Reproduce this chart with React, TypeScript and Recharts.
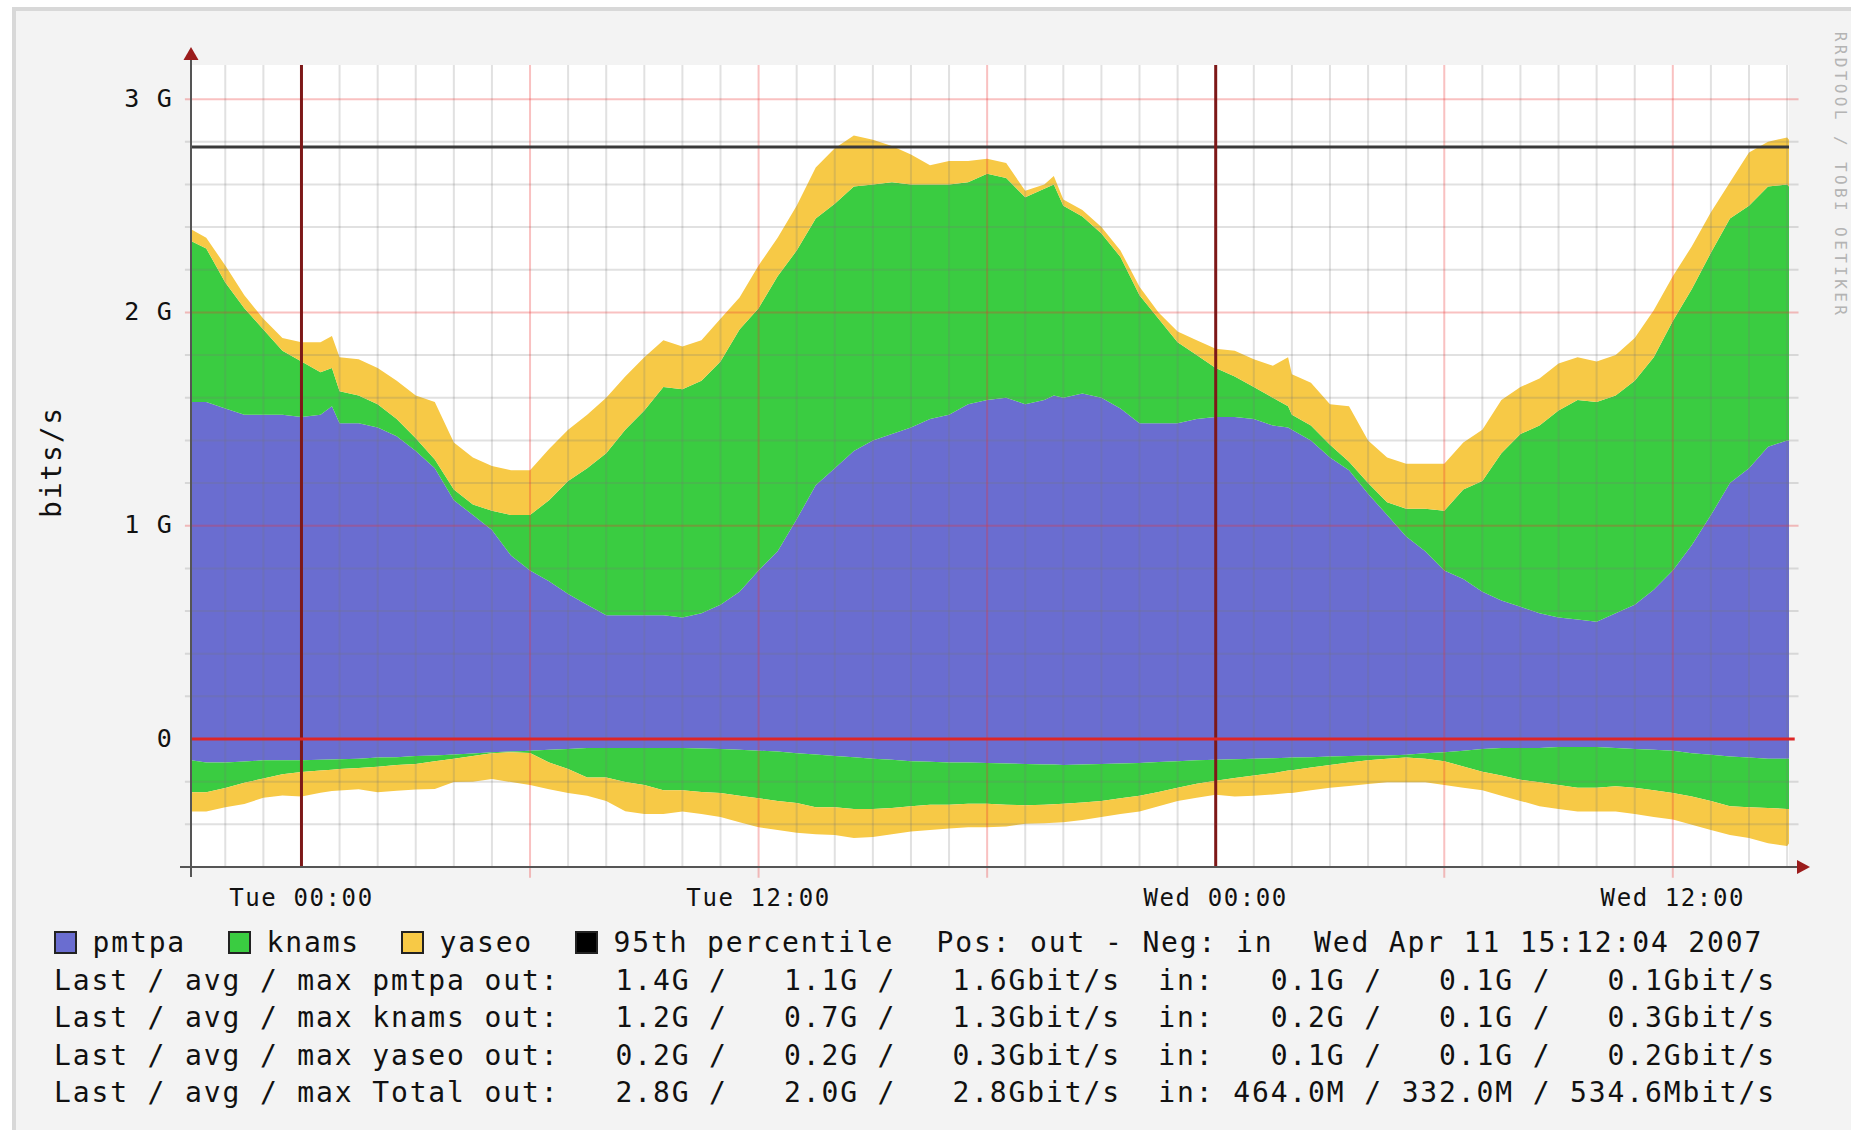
import { ComposedChart, Area, XAxis, YAxis, CartesianGrid, ReferenceLine, ReferenceDot } from 'recharts'

// hours relative to Tue 00:00
const HOURS = [
  -2.9, -2.5, -2, -1.5, -1, -0.5, 0, 0.5, 0.8,
  1, 1.5, 2, 2.5, 3, 3.5, 4, 4.5, 5, 5.5,
  6, 6.5, 7, 7.5, 8, 8.5, 9, 9.5, 10, 10.5,
  11, 11.5, 12, 12.5, 13, 13.5, 14, 14.5, 15, 15.5,
  16, 16.5, 17, 17.5, 18, 18.5, 19, 19.5, 19.75,
  20, 20.5, 21, 21.5, 22, 22.5, 23, 23.5, 24, 24.5, 25, 25.5, 25.9,
  26, 26.5, 27, 27.5, 28, 28.5, 29, 29.5, 30, 30.5,
  31, 31.5, 32, 32.5, 33, 33.5, 34, 34.5, 35, 35.5,
  36, 36.5, 37, 37.5, 38, 38.5, 39, 39.05,
]

// outgoing traffic, Gbit/s (stacked above zero)
const PMTPA_OUT = [
  1.58, 1.58, 1.55, 1.52, 1.52, 1.52, 1.51, 1.52, 1.56,
  1.48, 1.48, 1.46, 1.42, 1.35, 1.27, 1.12, 1.05, 0.98, 0.86,
  0.79, 0.74, 0.68, 0.63, 0.58, 0.58, 0.58, 0.58, 0.57, 0.59,
  0.63, 0.69, 0.79, 0.88, 1.03, 1.19, 1.27, 1.35, 1.4, 1.43,
  1.46, 1.5, 1.52, 1.57, 1.59, 1.6, 1.57, 1.59, 1.61,
  1.6, 1.62, 1.6, 1.55, 1.48, 1.48, 1.48, 1.5, 1.51, 1.51, 1.5, 1.47, 1.46,
  1.45, 1.4, 1.32, 1.26, 1.15, 1.05, 0.95, 0.88, 0.79, 0.75,
  0.69, 0.65, 0.62, 0.59, 0.57, 0.56, 0.55, 0.59, 0.63, 0.7,
  0.79, 0.91, 1.05, 1.2, 1.27, 1.37, 1.4, 1.4,
]
const KNAMS_OUT = [
  0.755, 0.72, 0.59, 0.5, 0.4, 0.3, 0.26, 0.2, 0.18,
  0.15, 0.13, 0.11, 0.08, 0.06, 0.04, 0.05, 0.05, 0.09, 0.19,
  0.26, 0.38, 0.53, 0.64, 0.76, 0.87, 0.96, 1.07, 1.07, 1.09,
  1.14, 1.23, 1.23, 1.29, 1.26, 1.25, 1.24, 1.24, 1.2, 1.18,
  1.14, 1.1, 1.08, 1.04, 1.06, 1.03, 0.97, 0.99, 0.99,
  0.9, 0.83, 0.77, 0.71, 0.6, 0.49, 0.38, 0.3, 0.23, 0.19, 0.15, 0.13, 0.1,
  0.07, 0.07, 0.06, 0.04, 0.05, 0.06, 0.13, 0.2, 0.28, 0.42,
  0.52, 0.69, 0.81, 0.88, 0.97, 1.03, 1.03, 1.02, 1.05, 1.09,
  1.17, 1.2, 1.23, 1.24, 1.23, 1.22, 1.2, 1.19,
]
const YASEO_OUT = [
  0.055, 0.05, 0.08, 0.06, 0.05, 0.06, 0.09, 0.14, 0.15,
  0.16, 0.17, 0.17, 0.18, 0.2, 0.27, 0.22, 0.22, 0.21, 0.21,
  0.21, 0.24, 0.24, 0.25, 0.26, 0.25, 0.25, 0.22, 0.2, 0.19,
  0.2, 0.15, 0.2, 0.18, 0.21, 0.24, 0.26, 0.24, 0.21, 0.17,
  0.14, 0.09, 0.11, 0.1, 0.07, 0.07, 0.03, 0.02, 0.04,
  0.03, 0.03, 0.03, 0.03, 0.04, 0.03, 0.05, 0.07, 0.09, 0.12, 0.13, 0.15, 0.23,
  0.19, 0.2, 0.19, 0.26, 0.2, 0.21, 0.21, 0.21, 0.22, 0.22,
  0.24, 0.25, 0.22, 0.22, 0.22, 0.2, 0.19, 0.19, 0.2, 0.22,
  0.21, 0.2, 0.19, 0.17, 0.25, 0.21, 0.22, 0.22,
]

// incoming traffic, drawn negative
const PMTPA_IN = [
  -0.1, -0.11, -0.11, -0.105, -0.1, -0.1, -0.1, -0.097, -0.096,
  -0.095, -0.092, -0.087, -0.085, -0.08, -0.077, -0.072, -0.068, -0.062, -0.058,
  -0.055, -0.05, -0.047, -0.042, -0.042, -0.042, -0.042, -0.042, -0.042, -0.045,
  -0.047, -0.05, -0.055, -0.058, -0.067, -0.072, -0.08, -0.085, -0.092, -0.097,
  -0.104, -0.107, -0.11, -0.11, -0.112, -0.115, -0.117, -0.12, -0.12,
  -0.122, -0.12, -0.117, -0.115, -0.112, -0.108, -0.104, -0.1, -0.097, -0.095, -0.092, -0.09, -0.088,
  -0.087, -0.085, -0.082, -0.08, -0.077, -0.077, -0.074, -0.067, -0.062, -0.055,
  -0.047, -0.042, -0.042, -0.042, -0.037, -0.037, -0.037, -0.042, -0.047, -0.05,
  -0.055, -0.067, -0.074, -0.082, -0.087, -0.092, -0.092, -0.092,
]
const KNAMS_IN = [
  -0.15, -0.14, -0.12, -0.1, -0.085, -0.065, -0.055, -0.05, -0.048,
  -0.046, -0.044, -0.043, -0.037, -0.037, -0.027, -0.02, -0.012, -0.005, -0.004,
  -0.01, -0.06, -0.093, -0.138, -0.138, -0.16, -0.174, -0.198, -0.198, -0.203,
  -0.206, -0.216, -0.223, -0.232, -0.233, -0.248, -0.24, -0.243, -0.236, -0.226,
  -0.211, -0.201, -0.198, -0.193, -0.191, -0.193, -0.193, -0.188, -0.186,
  -0.181, -0.178, -0.173, -0.163, -0.154, -0.14, -0.124, -0.11, -0.099, -0.088, -0.079, -0.07, -0.06,
  -0.059, -0.049, -0.04, -0.03, -0.022, -0.015, -0.013, -0.025, -0.042, -0.074,
  -0.107, -0.129, -0.149, -0.161, -0.179, -0.191, -0.191, -0.179, -0.181, -0.19,
  -0.198, -0.203, -0.216, -0.233, -0.233, -0.231, -0.236, -0.236,
]
const YASEO_IN = [
  -0.09, -0.09, -0.09, -0.1, -0.09, -0.1, -0.115, -0.105, -0.1,
  -0.1, -0.1, -0.12, -0.12, -0.12, -0.13, -0.11, -0.12, -0.12, -0.14,
  -0.15, -0.125, -0.113, -0.086, -0.11, -0.137, -0.136, -0.112, -0.1, -0.104,
  -0.112, -0.124, -0.136, -0.137, -0.14, -0.127, -0.13, -0.136, -0.131, -0.124,
  -0.119, -0.119, -0.112, -0.111, -0.111, -0.102, -0.087, -0.087, -0.086,
  -0.087, -0.082, -0.075, -0.074, -0.074, -0.067, -0.062, -0.065, -0.065, -0.087, -0.095, -0.1, -0.105,
  -0.107, -0.106, -0.106, -0.11, -0.112, -0.111, -0.116, -0.111, -0.112, -0.099,
  -0.086, -0.095, -0.099, -0.112, -0.112, -0.112, -0.112, -0.119, -0.124, -0.125,
  -0.124, -0.132, -0.137, -0.135, -0.144, -0.166, -0.173, -0.162,
]

const PERCENTILE_95 = 2.775

const X_TICKS = [0, 12, 24, 36]
const X_TICK_LABELS = ['Tue 00:00', 'Tue 12:00', 'Wed 00:00', 'Wed 12:00']
const Y_TICKS = [0, 1, 2, 3]
const Y_TICK_LABELS = ['0', '1 G', '2 G', '3 G']
const DAY_RULES = [0, 24]

const MINOR_Y = [-0.4, -0.2, 0.2, 0.4, 0.6, 0.8, 1.2, 1.4, 1.6, 1.8, 2.2, 2.4, 2.6, 2.8]
const MAJOR_Y = [1, 2, 3]
const MINOR_X = [-2, -1, 1, 2, 3, 4, 5, 7, 8, 9, 10, 11, 13, 14, 15, 16, 17, 19, 20, 21, 22, 23,
  25, 26, 27, 28, 29, 31, 32, 33, 34, 35, 37, 38, 39]
const MAJOR_X = [6, 12, 18, 30, 36]

const STATS_ROWS = [
  'Last / avg / max pmtpa out:   1.4G /   1.1G /   1.6Gbit/s  in:   0.1G /   0.1G /   0.1Gbit/s',
  'Last / avg / max knams out:   1.2G /   0.7G /   1.3Gbit/s  in:   0.2G /   0.1G /   0.3Gbit/s',
  'Last / avg / max yaseo out:   0.2G /   0.2G /   0.3Gbit/s  in:   0.1G /   0.1G /   0.2Gbit/s',
  'Last / avg / max Total out:   2.8G /   2.0G /   2.8Gbit/s  in: 464.0M / 332.0M / 534.6Mbit/s',
]

const BLUE = '#6a6dd0'
const GREEN = '#3acc41'
const YELLOW = '#f7c946'
const MONO = '"DejaVu Sans Mono", "Liberation Mono", monospace'

const W = 1851
const H = 930
const MARGIN = { top: 65, right: 62, bottom: 33, left: 131 }
const X_DOMAIN: [number, number] = [-2.9, 39.05]
const Y_DOMAIN: [number, number] = [-0.6, 3.16]

const LEGEND = [
  { name: 'pmtpa', color: BLUE, x: 54 },
  { name: 'knams', color: GREEN, x: 228 },
  { name: 'yaseo', color: YELLOW, x: 401 },
  { name: '95th percentile', color: '#000000', x: 575 },
]

const rows = HOURS.map((t, i) => ({
  t,
  pmtpaOut: PMTPA_OUT[i],
  knamsOut: KNAMS_OUT[i],
  yaseoOut: YASEO_OUT[i],
  pmtpaIn: PMTPA_IN[i],
  knamsIn: KNAMS_IN[i],
  yaseoIn: YASEO_IN[i],
}))

const minorGrid = 'rgba(120,120,120,0.22)'
const majorGrid = 'rgba(235,50,50,0.3)'

function XTick(props: any) {
  const { x, y, payload } = props
  const label = X_TICK_LABELS[X_TICKS.indexOf(payload.value)]
  return (
    <text x={x} y={y + 39} textAnchor="middle" fontFamily={MONO} fontSize={24} letterSpacing={1.6} fill="#111">
      {label}
    </text>
  )
}

function YTick(props: any) {
  const { x, y, payload } = props
  const label = Y_TICK_LABELS[Y_TICKS.indexOf(payload.value)]
  return (
    <text x={x - 18} y={y + 7.5} textAnchor="end" fontFamily={MONO} fontSize={25} letterSpacing={1.2} fill="#111"
      style={{ whiteSpace: 'pre' }}>
      {label}
    </text>
  )
}

function areaProps(color: string) {
  return {
    type: 'linear' as const,
    fill: color,
    fillOpacity: 1,
    stroke: 'none',
    dot: false,
    activeDot: false,
    isAnimationActive: false,
  }
}

function TrafficAreas() {
  return (
    <ComposedChart width={W} height={H} data={rows} margin={MARGIN}>
      <CartesianGrid fill="#ffffff" horizontal={false} vertical={false} stroke="none" />
      <XAxis type="number" dataKey="t" domain={X_DOMAIN} allowDataOverflow height={30} tick={false} axisLine={false} tickLine={false} />
      <YAxis type="number" domain={Y_DOMAIN} allowDataOverflow width={60} tick={false} axisLine={false} tickLine={false} />
      <Area dataKey="pmtpaOut" stackId="out" {...areaProps(BLUE)} />
      <Area dataKey="knamsOut" stackId="out" {...areaProps(GREEN)} />
      <Area dataKey="yaseoOut" stackId="out" {...areaProps(YELLOW)} />
      <Area dataKey="pmtpaIn" stackId="in" {...areaProps(BLUE)} />
      <Area dataKey="knamsIn" stackId="in" {...areaProps(GREEN)} />
      <Area dataKey="yaseoIn" stackId="in" {...areaProps(YELLOW)} />
    </ComposedChart>
  )
}

function GridOverlay() {
  return (
    <ComposedChart width={W} height={H} data={rows} margin={MARGIN}>
      <XAxis type="number" dataKey="t" domain={X_DOMAIN} allowDataOverflow height={30}
        ticks={X_TICKS} interval={0} tick={XTick} tickLine={false} tickSize={0} tickMargin={0}
        axisLine={{ stroke: '#555', strokeWidth: 2 }} />
      <YAxis type="number" domain={Y_DOMAIN} allowDataOverflow width={60}
        ticks={Y_TICKS} interval={0} tick={YTick} tickLine={false} tickSize={0} tickMargin={0}
        axisLine={{ stroke: '#555', strokeWidth: 2 }} />
      {MINOR_X.map((h) => (
        <ReferenceLine key={'mx' + h} segment={[{ x: h, y: Y_DOMAIN[0] }, { x: h, y: Y_DOMAIN[1] }]}
          stroke={minorGrid} strokeWidth={2} ifOverflow="visible" />
      ))}
      {MINOR_Y.map((v) => (
        <ReferenceLine key={'my' + v} segment={[{ x: -3.06, y: v }, { x: 39.3, y: v }]}
          stroke={minorGrid} strokeWidth={2} ifOverflow="visible" />
      ))}
      {MAJOR_X.map((h) => (
        <ReferenceLine key={'Mx' + h} segment={[{ x: h, y: -0.65 }, { x: h, y: Y_DOMAIN[1] }]}
          stroke={majorGrid} strokeWidth={2} ifOverflow="visible" />
      ))}
      {MAJOR_Y.map((v) => (
        <ReferenceLine key={'My' + v} segment={[{ x: -3.06, y: v }, { x: 39.3, y: v }]}
          stroke={majorGrid} strokeWidth={2} ifOverflow="visible" />
      ))}
      <ReferenceLine segment={[{ x: X_DOMAIN[0], y: PERCENTILE_95 }, { x: X_DOMAIN[1], y: PERCENTILE_95 }]}
        stroke="#3a3a3a" strokeWidth={3} ifOverflow="visible" />
      {DAY_RULES.map((h) => (
        <ReferenceLine key={'vr' + h} segment={[{ x: h, y: Y_DOMAIN[0] }, { x: h, y: Y_DOMAIN[1] }]}
          stroke="#7d1818" strokeWidth={3} ifOverflow="visible" />
      ))}
      <ReferenceLine segment={[{ x: X_DOMAIN[0], y: 0 }, { x: 39.2, y: 0 }]}
        stroke="#dd2626" strokeWidth={3} ifOverflow="visible" />
      <ReferenceDot x={X_DOMAIN[1]} y={Y_DOMAIN[0]} r={0} ifOverflow="visible"
        shape={(p: any) => (
          <g>
            <line x1={p.cx} y1={p.cy} x2={p.cx + 9} y2={p.cy} stroke="#555" strokeWidth={2} />
            <path d={`M${p.cx + 8},${p.cy - 7} L${p.cx + 21},${p.cy} L${p.cx + 8},${p.cy + 7} Z`} fill="#9b1c1c" />
          </g>
        )} />
      <ReferenceDot x={X_DOMAIN[0]} y={Y_DOMAIN[1]} r={0} ifOverflow="visible"
        shape={(p: any) => (
          <g>
            <line x1={p.cx} y1={p.cy} x2={p.cx} y2={p.cy - 6} stroke="#555" strokeWidth={2} />
            <path d={`M${p.cx - 7.5},${p.cy - 5} L${p.cx},${p.cy - 18} L${p.cx + 7.5},${p.cy - 5} Z`} fill="#9b1c1c" />
          </g>
        )} />
      <ReferenceDot x={X_DOMAIN[0]} y={Y_DOMAIN[0]} r={0} ifOverflow="visible"
        shape={(p: any) => (
          <g>
            <line x1={p.cx} y1={p.cy} x2={p.cx} y2={p.cy + 10} stroke="#555" strokeWidth={2} />
            <line x1={p.cx - 11} y1={p.cy} x2={p.cx} y2={p.cy} stroke="#555" strokeWidth={2} />
          </g>
        )} />
    </ComposedChart>
  )
}

function LegendText() {
  const textStyle = { whiteSpace: 'pre' as const }
  return (
    <svg width={W} height={1130} style={{ position: 'absolute', left: 0, top: 0 }}>
      <text x={51} y={462} transform="rotate(-90 51 462)" textAnchor="middle" dominantBaseline="central"
        fontFamily={MONO} fontSize={28} letterSpacing={1.8} fill="#111">bits/s</text>
      <text x={1840} y={175} transform="rotate(90 1840 175)" textAnchor="middle" dominantBaseline="central"
        fontFamily={MONO} fontSize={16} letterSpacing={3.4} fill="#b4b4b4" style={textStyle}>RRDTOOL / TOBI OETIKER</text>
      {LEGEND.map((item) => (
        <g key={item.name}>
          <rect x={item.x + 1} y={932} width={21} height={21} fill={item.color} stroke="#222" strokeWidth={2} />
          <text x={item.x + 38.5} y={952} fontFamily={MONO} fontSize={28} letterSpacing={1.86} fill="#111">{item.name}</text>
        </g>
      ))}
      <text x={936.5} y={952} fontFamily={MONO} fontSize={28} letterSpacing={1.86} fill="#111" style={textStyle}>
        Pos: out - Neg: in
      </text>
      <text x={1314} y={952} fontFamily={MONO} fontSize={28} letterSpacing={1.86} fill="#111" style={textStyle}>
        Wed Apr 11 15:12:04 2007
      </text>
      {STATS_ROWS.map((row, i) => (
        <text key={i} x={54} y={989.5 + i * 37.6} fontFamily={MONO} fontSize={28} letterSpacing={1.86} fill="#111"
          xmlSpace="preserve" style={textStyle}>
          {row}
        </text>
      ))}
    </svg>
  )
}

export default function App() {
  return (
    <div style={{ position: 'absolute', left: 0, top: 0, width: W, height: 1130, overflow: 'hidden', background: '#ffffff' }}>
      <div style={{ position: 'absolute', left: 12, top: 7, width: 1900, height: 1200, background: '#f3f3f3',
        border: '4px solid #d8d8d8', boxSizing: 'border-box' }} />
      <div style={{ position: 'absolute', left: 0, top: 0 }}>
        <TrafficAreas />
      </div>
      <div style={{ position: 'absolute', left: 0, top: 0 }}>
        <GridOverlay />
      </div>
      <LegendText />
    </div>
  )
}
